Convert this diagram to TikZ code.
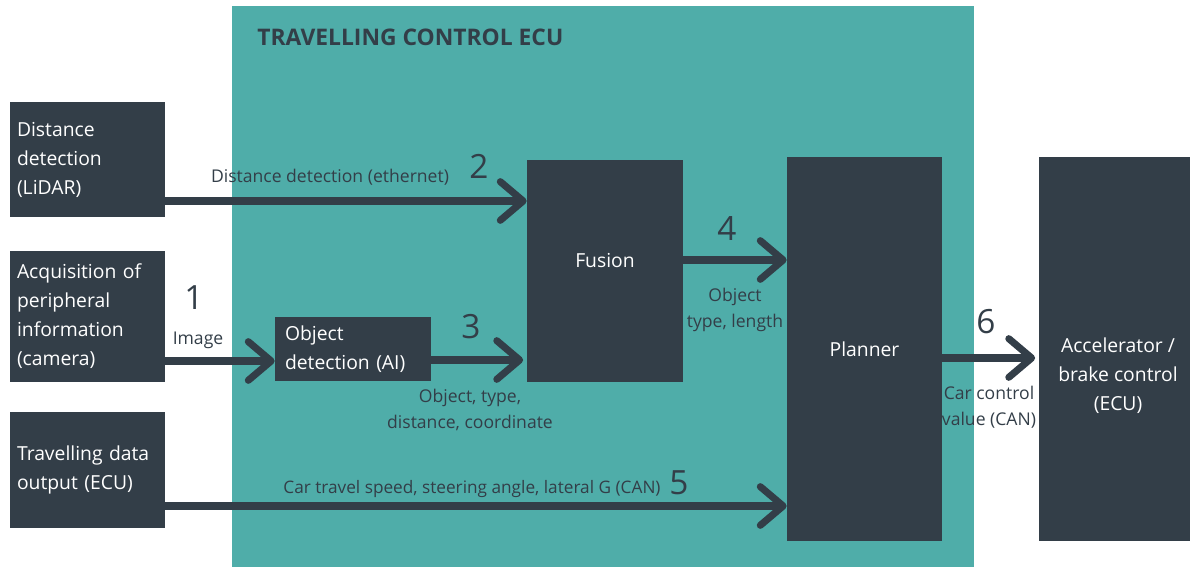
\documentclass[tikz,border=0pt]{standalone}
\usepackage{fontspec}
\setmainfont{Open Sans}
\usetikzlibrary{arrows.meta}
\definecolor{ecuteal}{RGB}{79,173,169}
\definecolor{slate}{RGB}{51,62,72}
\tikzset{
  box/.style={fill=slate, text=white, inner sep=0pt, font=\fontsize{11}{16.5}\selectfont},
  lbl/.style={text=slate, inner sep=0pt, align=center, font=\fontsize{10}{14.7}\selectfont},
  num/.style={text=slate, inner sep=0pt, font=\fontsize{19}{19}\selectfont},
  arr/.style={draw=slate, line width=4pt, -{Straight Barb[length=13pt,width=22pt,round]}},
}
\begin{document}
\begin{tikzpicture}[x=0.02cm,y=-0.02cm]
\useasboundingbox (0,0) rectangle (1190,567);
\fill[ecuteal] (232,6) rectangle (974,567);
\node[text=slate, anchor=west, inner sep=0pt, font=\fontsize{13}{13}\selectfont\bfseries] (title) at (257,37) {TRAVELLING CONTROL ECU};
\node[box, minimum width=3.1cm, minimum height=2.3cm, text width=2.82cm, align=left] (lidar) at (87.5,159.5) {Distance\\detection\\(LiDAR)};
\node[box, minimum width=3.1cm, minimum height=2.62cm, text width=2.82cm, align=left] (camera) at (87.5,316.5) {Acquisition of\\peripheral\\information\\(camera)};
\node[box, minimum width=3.1cm, minimum height=2.32cm, text width=2.82cm, align=left] (travel) at (87.5,470) {Travelling data\\output (ECU)};
\node[box, minimum width=3.12cm, minimum height=1.28cm, text width=2.72cm, align=left] (objdet) at (353,349) {Object\\detection (AI)};
\node[box, minimum width=3.12cm, minimum height=4.44cm, text depth=11.5pt] (fusion) at (605,271) {Fusion};
\node[box, minimum width=3.1cm, minimum height=7.68cm] (planner) at (864.5,349) {Planner};
\node[box, minimum width=3.02cm, minimum height=7.68cm] (accel) at (1114.5,349) {};
\node[box, fill=none, align=center] (acctext) at (1118,376) {Accelerator /\\brake control\\(ECU)};
\draw[arr] (lidar.east |- 0,201) -- (fusion.west |- 0,201);
\draw[arr] (camera.east |- 0,361) -- (objdet.west |- 0,361);
\draw[arr] (objdet.east |- 0,360) -- ([xshift=-2]fusion.west |- 0,360);
\draw[arr] (fusion.east |- 0,260) -- (planner.west |- 0,260);
\draw[arr] (travel.east |- 0,506) -- (planner.west |- 0,506);
\draw[arr] (planner.east |- 0,358) -- ([xshift=-2]accel.west |- 0,358);
\node[lbl] (l2) at (330,177) {Distance detection (ethernet)};
\node[num] (n2) at (479,166) {2};
\node[num] (n1) at (194,298) {1};
\node[lbl] (l1) at (198,340) {Image};
\node[num] (n3) at (471,327) {3};
\node[lbl] (l3) at (470,410) {Object, type,\\distance, coordinate};
\node[num] (n4) at (727,229) {4};
\node[lbl] (l4) at (735,310) {Object\\type, length};
\node[num] (n5) at (679,483) {5};
\node[lbl, font=\fontsize{9.8}{12}\selectfont] (l5) at (472,489) {Car travel speed, steering angle, lateral G (CAN)};
\node[num] (n6) at (986,322) {6};
\node[lbl] (l6) at (989,407) {Car control\\value (CAN)};
\end{tikzpicture}
\end{document}
